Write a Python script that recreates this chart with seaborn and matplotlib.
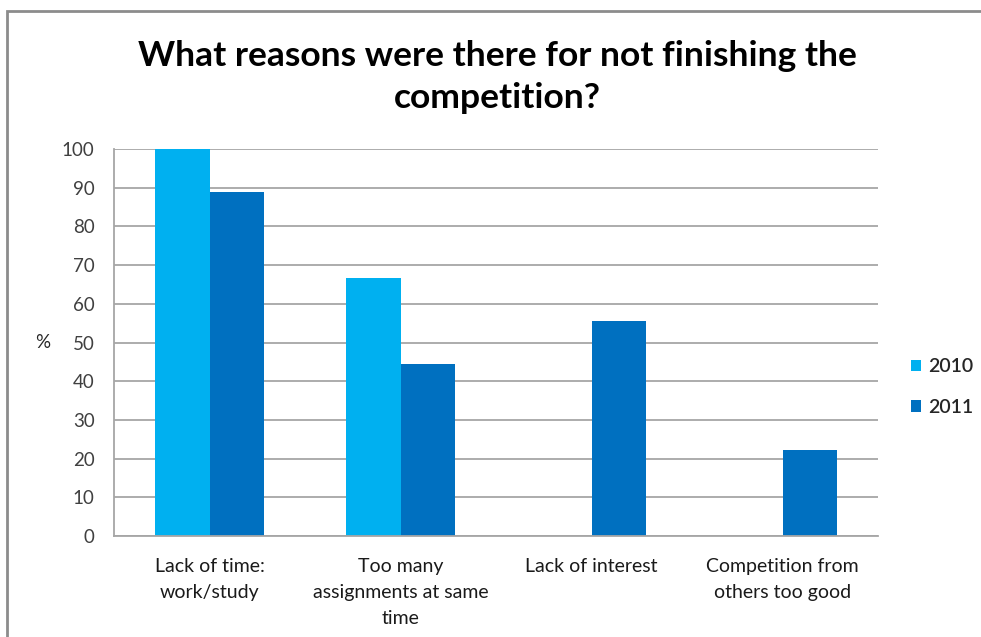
import matplotlib
matplotlib.use("Agg")
import matplotlib.pyplot as plt
from matplotlib.patches import Rectangle
import seaborn as sns
import pandas as pd

categories = [
    "Lack of time:\nwork/study",
    "Too many\nassignments at same\ntime",
    "Lack of interest",
    "Competition from\nothers too good",
]
values_2010 = [100.0, 66.7, 0.0, 0.0]
values_2011 = [88.9, 44.4, 55.6, 22.2]
years = ["2010", "2011"]
y_ticks = [0, 10, 20, 30, 40, 50, 60, 70, 80, 90, 100]
colors = ["#00B0F0", "#0070C0"]

df = pd.DataFrame({
    "reason": categories * 2,
    "year": [years[0]] * len(categories) + [years[1]] * len(categories),
    "pct": values_2010 + values_2011,
})

sns.set_theme(style="white")
plt.rcParams["font.family"] = ["Lato", "DejaVu Sans"]

fig = plt.figure(figsize=(9.81, 6.37), dpi=100)
ax = fig.add_axes([114 / 981, 1 - 536 / 637, (878 - 114) / 981, (536 - 149) / 637])

sns.barplot(data=df, x="reason", y="pct", hue="year", order=categories,
            hue_order=years, palette=colors, width=0.57, saturation=1,
            linewidth=0, ax=ax, legend=True)

ax.set_ylim(0, 100)
ax.set_xlim(-0.5, len(categories) - 0.5)
ax.set_yticks(y_ticks)
ax.yaxis.grid(True, color="#A6A6A6", linewidth=1.3)
ax.set_axisbelow(True)
for side in ["top", "right"]:
    ax.spines[side].set_visible(False)
ax.spines["left"].set_color("#A6A6A6")
ax.spines["bottom"].set_color("#A6A6A6")
ax.spines["left"].set_linewidth(1.3)
ax.spines["bottom"].set_linewidth(1.3)
ax.tick_params(axis="y", labelsize=13.5, labelcolor="#404040", length=0, pad=14)
ax.tick_params(axis="x", labelsize=14, labelcolor="#1a1a1a", length=0, pad=16)
for lbl in ax.get_xticklabels():
    lbl.set_linespacing(1.62)
ax.set_xlabel("")
ax.set_ylabel("%", rotation=0, fontsize=13.5, color="#262626", labelpad=14, va="center")

ax.legend(loc="center left", bbox_to_anchor=(1.02, 0.385), frameon=False,
          fontsize=14, handlelength=0.55, handleheight=0.55, handletextpad=0.35,
          labelspacing=1.2)
for t in ax.get_legend().get_texts():
    t.set_fontweight("semibold")

fig.text(0.507, 0.879, "What reasons were there for not finishing the\ncompetition?",
         ha="center", va="center", fontsize=25.5, fontweight="bold", linespacing=1.36,
         color="black")

# chart frame
fig.patches.append(Rectangle((7 / 981, -0.05), 1.2, 1 - 11 / 637 + 0.05,
                             transform=fig.transFigure, fill=False,
                             edgecolor="#8C8C8C", linewidth=2))

fig.savefig("out.png", dpi=100)
